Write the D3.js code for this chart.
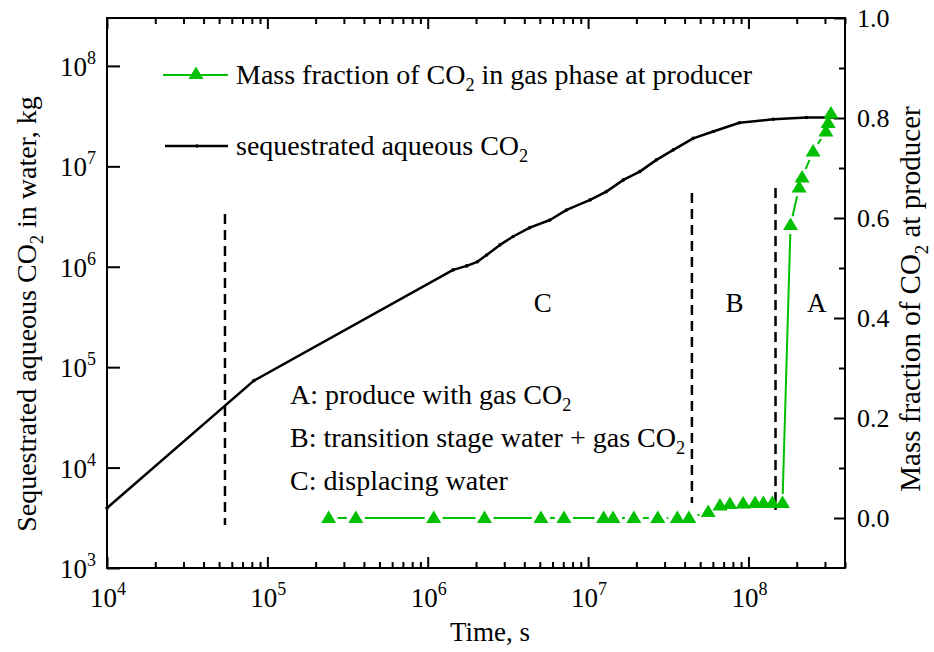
<!DOCTYPE html>
<html><head><meta charset="utf-8">
<script src="https://cdn.jsdelivr.net/npm/d3@7"></script>
<style>
body{margin:0;background:#fff}
svg{display:block}
</style>
</head><body>
<svg id="chart" width="934" height="652"></svg>
<script>
// ---------- data ----------
const xMajorTicks = [1e4, 1e5, 1e6, 1e7, 1e8];
const xMajorExp = ["4", "5", "6", "7", "8"];
const yLeftTicks = [1e3, 1e4, 1e5, 1e6, 1e7, 1e8];
const yLeftExp = ["3", "4", "5", "6", "7", "8"];
const yRightTicks = [0, 0.2, 0.4, 0.6, 0.8, 1.0];
const yRightLabels = ["0.0", "0.2", "0.4", "0.6", "0.8", "1.0"];
const yRightMinor = [0.1, 0.3, 0.5, 0.7, 0.9];

// sequestrated aqueous CO2 (kg) vs time (s)
const aqTime = [1e4, 8.24e4, 1.44e6, 1.75e6, 2.04e6, 2.33e6, 2.82e6, 3.41e6, 4.33e6, 5.78e6, 7.35e6,
  1.03e7, 1.30e7, 1.66e7, 2.1e7, 2.67e7, 3.4e7, 4.52e7, 6.03e7, 8.8e7, 1.43e8, 2.3e8, 3.45e8];
const aqMass = [3.96e3, 7.34e4, 9.3e5, 1.02e6, 1.12e6, 1.31e6, 1.65e6, 2.0e6, 2.45e6, 2.92e6, 3.68e6,
  4.63e6, 5.6e6, 7.33e6, 8.86e6, 1.16e7, 1.46e7, 1.9e7, 2.22e7, 2.72e7, 2.94e7, 3.06e7, 3.06e7];

// mass fraction of CO2 in gas phase at producer
const gasTime = [2.41e5, 3.56e5, 1.09e6, 2.26e6, 5.08e6, 7.07e6, 1.25e7, 1.43e7, 1.93e7, 2.72e7, 3.6e7, 4.25e7,
  5.61e7, 6.64e7, 7.66e7, 9.27e7, 1.1e8, 1.24e8, 1.41e8, 1.63e8,
  1.83e8, 2.07e8, 2.16e8, 2.53e8, 3.04e8, 3.14e8, 3.27e8];
const gasFrac = [0, 0, 0, 0, 0, 0, 0, 0, 0, 0, 0, 0,
  0.012, 0.025, 0.028, 0.029, 0.03, 0.03, 0.03, 0.03,
  0.586, 0.661, 0.681, 0.733, 0.773, 0.79, 0.809];

// stage dividers (time, top and bottom on the left axis)
const dividerTime = [5.44e4, 4.44e7, 1.475e8];
const dividerTop = [3.36e6, 5.43e6, 6.1e6];
const dividerBottom = [2.68e3, 4.44e3, 3.78e3];

const stageLabels = ["C", "B", "A"];
const stageTime = [5.22e6, 8.2e7, 2.67e8];

// ---------- layout ----------
const L = 107, R = 845, T = 18, B = 568;
const green = "#00c000";
const FONT = '"Liberation Serif", "Times New Roman", serif';
const svg = d3.select("#chart");

const x = d3.scaleLog().domain([1e4, 4e8]).range([L, R]);
const yL = d3.scaleLog().domain([1e3, 3e8]).range([B, T]);
const yR = d3.scaleLinear().domain([-0.1, 1.0]).range([B, T]);

const xMinor = x.ticks().filter(v => !xMajorTicks.some(m => Math.abs(m - v) / m < 1e-9));

function styleAxis(g) {
  g.select(".domain").remove();
  g.selectAll(".tick line").attr("stroke", "#000").attr("stroke-width", 2);
}

// bottom axis
svg.append("g").attr("transform", `translate(0,${B})`)
  .call(d3.axisBottom(x).tickValues(xMajorTicks).tickSize(-11).tickFormat("")).call(styleAxis);
svg.append("g").attr("transform", `translate(0,${B})`)
  .call(d3.axisBottom(x).tickValues(xMinor).tickSize(-6).tickFormat("")).call(styleAxis);
// top axis
svg.append("g").attr("transform", `translate(0,${T})`)
  .call(d3.axisTop(x).tickValues(xMajorTicks).tickSize(-11).tickFormat("")).call(styleAxis);
svg.append("g").attr("transform", `translate(0,${T})`)
  .call(d3.axisTop(x).tickValues(xMinor).tickSize(-6).tickFormat("")).call(styleAxis);
// left axis
svg.append("g").attr("transform", `translate(${L},0)`)
  .call(d3.axisLeft(yL).tickValues(yLeftTicks).tickSize(-13).tickFormat("")).call(styleAxis);
// right axis
svg.append("g").attr("transform", `translate(${R},0)`)
  .call(d3.axisRight(yR).tickValues(yRightTicks).tickSize(-11).tickFormat("")).call(styleAxis);
svg.append("g").attr("transform", `translate(${R},0)`)
  .call(d3.axisRight(yR).tickValues(yRightMinor).tickSize(-6).tickFormat("")).call(styleAxis);

// frame
svg.append("rect").attr("x", L).attr("y", T).attr("width", R - L).attr("height", B - T)
  .attr("fill", "none").attr("stroke", "#000").attr("stroke-width", 2);

function txt(sel) {
  return sel.append("text").style("font-family", FONT).attr("fill", "#000");
}

// tick labels
const tickFs = 27, supFs = 18;
xMajorTicks.forEach((v, i) => {
  const t = txt(svg).attr("x", x(v) + 1).attr("y", 607)
    .attr("text-anchor", "middle").attr("font-size", tickFs);
  t.append("tspan").text("10");
  t.append("tspan").attr("dy", -12).attr("font-size", supFs).text(xMajorExp[i]);
});
yLeftTicks.forEach((v, i) => {
  const t = txt(svg).attr("x", 96).attr("y", yL(v) + 10)
    .attr("text-anchor", "end").attr("font-size", tickFs);
  t.append("tspan").text("10");
  t.append("tspan").attr("dy", -12).attr("font-size", supFs).text(yLeftExp[i]);
});
yRightTicks.forEach((v, i) => {
  txt(svg).attr("x", 857).attr("y", yR(v) + 9)
    .attr("font-size", 26).text(yRightLabels[i]);
});

// text with subscripts
function subText(sel, parts, fs) {
  parts.forEach(p => {
    if (p.sub) {
      sel.append("tspan").attr("font-size", fs * 0.65).attr("dy", fs * 0.26).text(p.t);
    } else {
      sel.append("tspan").attr("dy", p.back ? -fs * 0.26 : 0).text(p.t);
    }
  });
}
txt(svg).attr("text-anchor", "middle").attr("x", 490).attr("y", 641)
  .attr("font-size", 27).text("Time, s");
subText(txt(svg).attr("text-anchor", "middle").attr("font-size", 28)
  .attr("transform", "translate(36,314) rotate(-90)"),
  [{t: "Sequestrated aqueous CO"}, {t: "2", sub: true}, {t: " in water, kg", back: true}], 28);
subText(txt(svg).attr("text-anchor", "middle").attr("font-size", 29)
  .attr("transform", "translate(920,299) rotate(-90)"),
  [{t: "Mass fraction of CO"}, {t: "2", sub: true}, {t: " at producer", back: true}], 29);

// dividers
dividerTime.forEach((t, i) => {
  svg.append("line").attr("x1", x(t)).attr("x2", x(t))
    .attr("y1", yL(dividerTop[i])).attr("y2", yL(dividerBottom[i]))
    .attr("stroke", "#000").attr("stroke-width", 2.5).attr("stroke-dasharray", "10,6");
});

// stage letters
stageLabels.forEach((s, i) => {
  txt(svg).attr("x", x(stageTime[i])).attr("y", 312)
    .attr("text-anchor", "middle").attr("font-size", 27).text(s);
});

// annotation block
const txtFs = 28;
const notes = [
  [{t: "A: produce with gas CO"}, {t: "2", sub: true}],
  [{t: "B: transition stage water + gas CO"}, {t: "2", sub: true}],
  [{t: "C: displacing water"}]
];
notes.forEach((n, i) => {
  subText(txt(svg).attr("x", 290).attr("y", 404 + i * 43).attr("font-size", txtFs), n, txtFs);
});

// aqueous CO2 line
const aqData = aqTime.map((t, i) => [t, aqMass[i]]);
svg.append("path").datum(aqData)
  .attr("d", d3.line().x(d => x(d[0])).y(d => yL(d[1])))
  .attr("fill", "none").attr("stroke", "#000").attr("stroke-width", 2.5).attr("stroke-linejoin", "round");
svg.selectAll(".aqdot").data(aqData).enter().append("circle")
  .attr("cx", d => x(d[0])).attr("cy", d => yL(d[1])).attr("r", 1.8).attr("fill", "#000");

// gas fraction line with gaps around symbols
const gap = 9;
const gasPts = gasTime.map((t, i) => [x(t), yR(gasFrac[i])]);
const segs = [];
for (let i = 0; i < gasPts.length - 1; i++) {
  const [x1, y1] = gasPts[i], [x2, y2] = gasPts[i + 1];
  const len = Math.hypot(x2 - x1, y2 - y1);
  if (len > 2 * gap + 1) {
    const ux = (x2 - x1) / len, uy = (y2 - y1) / len;
    segs.push([x1 + ux * gap, y1 + uy * gap, x2 - ux * gap, y2 - uy * gap]);
  }
}
svg.selectAll(".gseg").data(segs).enter().append("line")
  .attr("x1", d => d[0]).attr("y1", d => d[1]).attr("x2", d => d[2]).attr("y2", d => d[3])
  .attr("stroke", green).attr("stroke-width", 2);
const tri = "M0,-7.5L7.5,5L-7.5,5Z";
svg.selectAll(".gtri").data(gasPts).enter().append("path")
  .attr("d", tri).attr("transform", d => `translate(${d[0]},${d[1]})`).attr("fill", green);

// legend
svg.append("line").attr("x1", 163).attr("x2", 228).attr("y1", 75).attr("y2", 75)
  .attr("stroke", green).attr("stroke-width", 2);
svg.append("path").attr("d", tri).attr("transform", "translate(196,74)").attr("fill", green);
subText(txt(svg).attr("x", 236).attr("y", 84).attr("font-size", txtFs),
  [{t: "Mass fraction of CO"}, {t: "2", sub: true}, {t: " in gas phase at producer", back: true}], txtFs);
svg.append("line").attr("x1", 165).attr("x2", 228).attr("y1", 146).attr("y2", 146)
  .attr("stroke", "#000").attr("stroke-width", 2.5);
svg.append("circle").attr("cx", 197).attr("cy", 146).attr("r", 1.8).attr("fill", "#000");
subText(txt(svg).attr("x", 236).attr("y", 155).attr("font-size", txtFs),
  [{t: "sequestrated aqueous CO"}, {t: "2", sub: true}], txtFs);
</script>
</body></html>
